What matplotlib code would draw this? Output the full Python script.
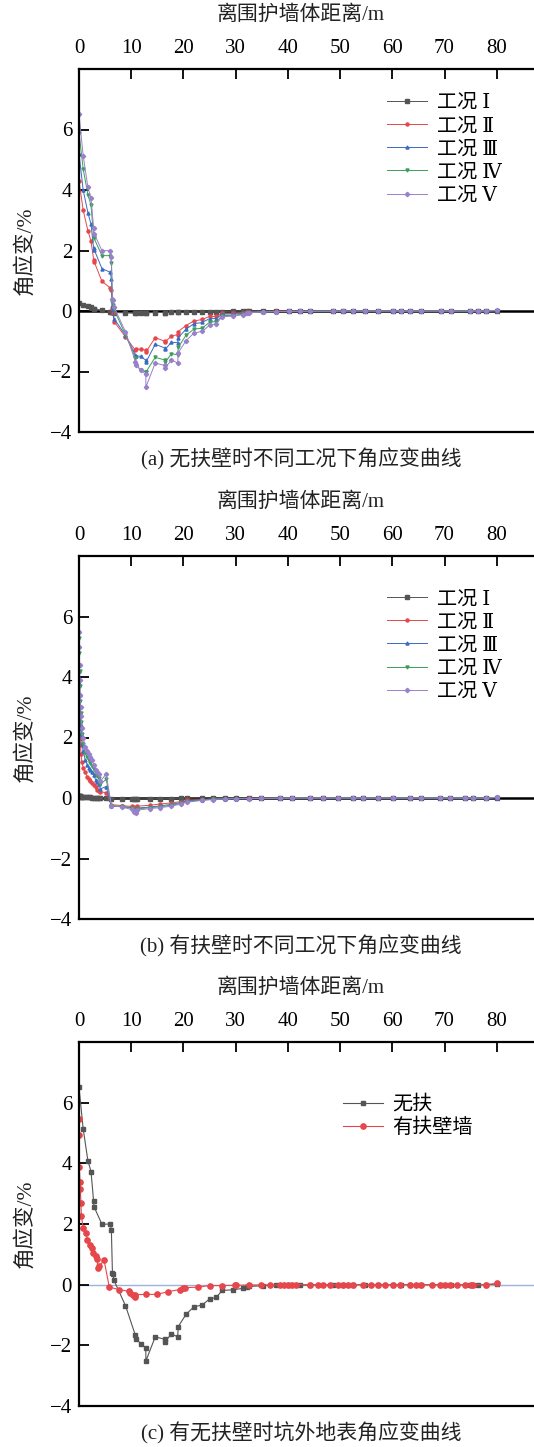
import numpy as np
import matplotlib
matplotlib.use('Agg')
import matplotlib.pyplot as plt

plt.rcParams['font.family'] = ['Liberation Serif', 'DejaVu Serif', 'Noto Sans CJK SC']
plt.rcParams['axes.unicode_minus'] = True

# ---- data ----
# (a) no buttress, x of survey points (m)
xa = [0, 0.8, 1.7, 2.3, 2.8, 2.9, 4.4, 6.0, 6.2, 6.4, 6.5, 6.7,
      8.9, 10.8, 11.0, 11.8, 12.8, 12.8, 14.6, 16.4, 16.5, 17.7, 18.9, 19.0,
      20.5, 22.0, 23.6, 25.0, 26.3, 27.4, 29.5, 31.4, 32.1, 32.6, 35.2, 37.8,
      40.2, 42.3, 44.2, 48.6, 50.5, 52.5, 54.7, 57.2, 60.1, 61.7, 63.3, 65.5,
      69.3, 71.3, 74.8, 76.4, 78.0, 80.0]
ya1 = [0.25, 0.2, 0.15, 0.12, 0.08, 0.08, 0.02, -0.02, -0.02, -0.04, -0.04, -0.05,
       -0.06, -0.08, -0.08, -0.07, -0.06, -0.06, -0.05, -0.05, -0.05, -0.04, -0.04, -0.04,
       -0.03, -0.03, -0.03, -0.02, -0.02, -0.02, -0.01, -0.01, -0.01, -0.01, 0, 0,
       0, 0, 0, 0, 0, 0, 0, 0, 0, 0, 0, 0,
       0, 0, 0, 0, 0, 0]
ya2 = [4.3, 3.33, 2.66, 2.31, 1.7, 1.63, 0.98, 0.76, 0.70, 0.05, -0.05, -0.35,
       -0.85, -1.3, -1.26, -1.26, -1.3, -1.36, -0.88, -1.0, -1.02, -0.83, -0.78, -0.68,
       -0.48, -0.33, -0.28, -0.18, -0.18, -0.08, -0.08, -0.05, -0.04, -0.03, -0.02, -0.01,
       -0.01, -0.01, 0, 0, 0, 0, 0, 0, 0, 0, 0, 0,
       0, 0, 0, 0, 0, 0.01]
ya3 = [5.2, 4.0, 3.25, 2.87, 2.07, 2.03, 1.4, 1.28, 1.05, 0.15, 0.05, -0.25,
       -0.8, -1.45, -1.48, -1.5, -1.63, -1.7, -1.1, -1.22, -1.27, -1.03, -1.05, -0.88,
       -0.6, -0.42, -0.38, -0.25, -0.25, -0.1, -0.1, -0.08, -0.06, -0.04, -0.02, -0.02,
       -0.01, -0.01, -0.01, 0, 0, 0, 0, 0, 0, 0, 0, 0,
       0, 0, 0, 0, 0, 0.01]
ya4 = [5.9, 4.7, 3.85, 3.5, 2.45, 2.4, 1.83, 1.83, 1.6, 0.3, 0.2, 0.05,
       -0.78, -1.55, -1.8, -1.95, -2.0, -2.02, -1.53, -1.62, -1.7, -1.41, -1.45, -1.2,
       -0.8, -0.6, -0.57, -0.37, -0.35, -0.15, -0.15, -0.1, -0.07, -0.05, -0.03, -0.02,
       -0.01, -0.01, -0.01, 0, 0, 0, 0, 0, 0, 0, 0, 0,
       0, 0, 0, 0, 0, 0.01]
ya5 = [6.5, 5.14, 4.09, 3.73, 2.75, 2.56, 1.99, 2.0, 1.79, 0.40, 0.35, 0.14,
       -0.69, -1.67, -1.78, -1.95, -2.09, -2.52, -1.72, -1.80, -1.88, -1.62, -1.72, -1.38,
       -0.98, -0.73, -0.67, -0.47, -0.42, -0.19, -0.17, -0.12, -0.08, -0.06, -0.03, -0.02,
       -0.01, -0.01, -0.01, -0.01, 0, 0, 0, 0, 0, 0, 0, 0,
       0, 0, 0, 0, 0, 0.02]

# (b) with buttress
xb = [0, 0.05, 0.1, 0.15, 0.2, 0.3, 0.4, 0.55, 0.8, 1.2, 1.6, 1.9,
      2.2, 2.5, 2.8, 3.2, 3.5, 3.8, 4.1, 5.2, 6.2, 8.2, 10.1, 10.6,
      10.9, 11.2, 13.6, 15.5, 17.7, 19.5, 20.6, 23.5, 25.7,
      28.0, 30.1, 32.6, 34.9, 38.4, 40.8, 44.2, 46.8, 49.6, 52.5, 54.4,
      57.2, 60.1, 63.3, 65.5, 69.1, 71.0, 74.0, 75.5, 78.0, 80.0]
yb1 = [0.05, 0.05, 0.05, 0.05, 0.05, 0.04, 0.04, 0.04, 0.03, 0.03, 0.02, 0.02,
       0.02, 0.01, 0.01, 0.01, 0, 0, 0, 0, -0.02, -0.03, -0.03, -0.03,
       -0.03, -0.03, -0.02, -0.02, -0.02, -0.01, -0.01, 0, 0,
       0, 0, 0, 0, 0, 0, 0, 0, 0, 0, 0,
       0, 0, 0, 0, 0, 0, 0, 0, 0, 0]
yb2 = [3.0, 2.8, 2.5, 2.3, 2.0, 1.75, 1.45, 1.2, 1.0, 0.85, 0.7, 0.62,
       0.55, 0.48, 0.42, 0.35, 0.28, 0.22, 0.2, 0.18, -0.22, -0.25, -0.28, -0.3,
       -0.32, -0.27, -0.24, -0.2, -0.16, -0.12, -0.08, -0.05, -0.03,
       -0.02, -0.02, -0.01, -0.01, 0, 0, 0, 0, 0, 0, 0,
       0, 0, 0, 0, 0, 0, 0, 0, 0, 0.01]
yb3 = [4.2, 3.8, 3.4, 3.0, 2.7, 2.4, 2.1, 1.8, 1.55, 1.25, 1.1, 1.0,
       0.92, 0.85, 0.75, 0.6, 0.52, 0.45, 0.3, 0.38, -0.28, -0.28, -0.32, -0.36,
       -0.4, -0.33, -0.3, -0.26, -0.21, -0.15, -0.1, -0.06, -0.03,
       -0.02, -0.02, -0.01, -0.01, -0.01, 0, 0, 0, 0, 0, 0,
       0, 0, 0, 0, 0, 0, 0, 0, 0, 0.01]
yb4 = [5.3, 4.8, 4.2, 3.7, 3.2, 2.8, 2.5, 2.1, 1.8, 1.5, 1.35, 1.25,
       1.15, 1.05, 0.95, 0.8, 0.72, 0.65, 0.45, 0.62, -0.25, -0.28, -0.34, -0.4,
       -0.44, -0.36, -0.32, -0.29, -0.24, -0.18, -0.12, -0.07, -0.04,
       -0.03, -0.02, -0.02, -0.01, -0.01, 0, 0, 0, 0, 0, 0,
       0, 0, 0, 0, 0, 0, 0, 0, 0, 0.02]
yb5 = [5.5, 5.0, 4.4, 3.9, 3.4, 3.0, 2.7, 2.3, 2.0, 1.7, 1.55, 1.47,
       1.35, 1.25, 1.1, 0.92, 0.85, 0.8, 0.55, 0.8, -0.25, -0.3, -0.38, -0.45,
       -0.5, -0.4, -0.35, -0.32, -0.27, -0.2, -0.14, -0.08, -0.05,
       -0.03, -0.02, -0.02, -0.01, -0.01, 0, 0, 0, 0, 0, 0,
       0, 0, 0, 0, 0, 0, 0, 0, 0, 0.02]

# (c) comparison; "无扶" is the same data as (a) case V
xc = [0, 0.02, 0.05, 0.2, 0.25, 0.38, 0.45, 0.83, 1.34, 1.6,
      2.1, 2.4, 2.7, 3.2, 3.5, 3.57, 3.8, 4.8, 5.8, 7.6,
      9.6, 9.75, 10.4, 10.7, 10.8, 12.9, 14.9, 17.1, 19.3, 19.9,
      20.3, 22.8, 25.0, 27.3, 29.8, 30.1,
      32.6, 34.9, 36.5, 38.4, 39.2, 40.0, 40.8, 41.6, 44.2, 45.8,
      46.8, 48.0, 49.6, 50.5, 51.5, 52.5, 54.4, 56.0, 57.2, 58.5,
      60.1, 61.4, 63.3, 64.5, 65.5, 67.5, 69.1, 70.1, 71.0, 72.4,
      74.0, 75.0, 75.5, 78.0, 80.0]
yc = [5.45, 4.95, 3.88, 3.39, 3.14, 2.68, 2.26, 1.86, 1.69, 1.48,
      1.31, 1.2, 1.04, 0.93, 0.84, 0.55, 0.6, 0.81, -0.08, -0.16,
      -0.22, -0.27, -0.33, -0.42, -0.33, -0.32, -0.32, -0.23, -0.16, -0.12,
      -0.10, -0.08, -0.03, -0.03, -0.02, -0.02,
      -0.01, -0.01, -0.01, -0.01, -0.01, 0, 0, 0, 0, 0,
      0, 0, 0, 0, 0, 0, 0, 0, 0, 0,
      0, 0, 0, 0, 0, 0, 0, 0, 0, 0,
      0, 0, 0, 0, 0.04]

case_labels = ['工况 Ⅰ', '工况 Ⅱ', '工况 Ⅲ', '工况 Ⅳ', '工况 Ⅴ']
case_colors = ['#555555', '#e5474b', '#3a6cc2', '#3c9e5c', '#9a80cc']
case_markers = ['s', 'o', '^', 'v', 'D']

W, H = 534, 1447
FS = 15
fig = plt.figure(figsize=(W / 100, H / 100), dpi=100)

def px2fig(left, top, right, bottom):
	return [left / W, 1 - bottom / H, (right - left) / W, (bottom - top) / H]

def setup(ax, top_px, bottom_px, caption):
	ax.set_xlim(0, 90)
	ax.set_ylim(-4, 8)
	ax.xaxis.tick_top()
	ax.set_xticks(np.arange(0, 81, 10))
	ax.set_yticks(np.arange(-4, 7, 2))
	ax.tick_params(axis='x', direction='in', length=7, width=1.3, pad=8, labelsize=FS,
		top=True, bottom=False)
	ax.tick_params(axis='y', direction='in', length=7, width=1.3, pad=5, labelsize=FS)
	for s in ax.spines.values():
		s.set_linewidth(1.6)
	fig.text(301 / W, 1 - (top_px - 54) / H, '离围护墙体距离/m', ha='center', va='center',
		fontsize=FS, color='#222222')
	fig.text(25 / W, 1 - (top_px + bottom_px) / 2 / H, '角应变/%', ha='center', va='center',
		rotation=90, fontsize=15.5, color='#222222')
	fig.text(301 / W, 1 - (bottom_px + 27) / H, caption, ha='center', va='center',
		fontsize=FS, color='#222222')

def cases(ax, x, ys, top_y):
	ax.axhline(0, color='black', lw=1.8, zorder=1)
	for y, lab, c, m in zip(ys, case_labels, case_colors, case_markers):
		ax.plot(x, y, color=c, lw=0.7, marker=m, markersize=2.2, label=lab)
	ax.legend(loc='upper left', bbox_to_anchor=(0.655, top_y), frameon=False, fontsize=14.5,
		handlelength=2.0, handletextpad=0.5, labelspacing=0.2, borderpad=0, borderaxespad=0)

# (a)
ax1 = fig.add_axes(px2fig(79, 69, 549, 432))
cases(ax1, xa, [ya1, ya2, ya3, ya4, ya5], 0.931)
setup(ax1, 69, 432, '(a) 无扶壁时不同工况下角应变曲线')

# (b)
ax2 = fig.add_axes(px2fig(79, 556, 549, 919))
cases(ax2, xb, [yb1, yb2, yb3, yb4, yb5], 0.906)
setup(ax2, 556, 919, '(b) 有扶壁时不同工况下角应变曲线')

# (c)
ax3 = fig.add_axes(px2fig(79, 1042, 549, 1406))
ax3.axhline(0, color='#9db3dc', lw=1.0, zorder=1)
ax3.plot(xa, ya5, color='#555555', lw=0.8, marker='s', markersize=3.5, label='无扶')
ax3.plot(xc, yc, color='#e5474b', lw=0.8, marker='o', markersize=3.8, label='有扶壁墙')
ax3.legend(loc='upper left', bbox_to_anchor=(0.561, 0.852), frameon=False, fontsize=14.5,
	handlelength=2.0, handletextpad=0.45, labelspacing=0.2, borderpad=0, borderaxespad=0)
setup(ax3, 1042, 1406, '(c) 有无扶壁时坑外地表角应变曲线')

fig.savefig('out.png', dpi=100)
